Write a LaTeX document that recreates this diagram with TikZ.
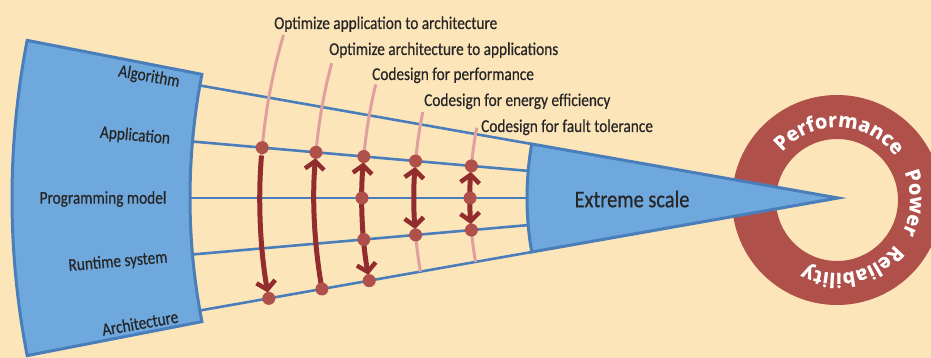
\documentclass[tikz,border=0pt]{standalone}
\usepackage{fontspec}
\setmainfont{Carlito}[FakeStretch=0.85,FakeBold=0.5]
\newfontfamily\ringfont{Open Sans}[FakeBold=0.6]
\usetikzlibrary{arrows.meta,decorations.text}

\definecolor{bg}{HTML}{FDE5BA}
\definecolor{bluefill}{HTML}{6FA8DC}
\definecolor{blueline}{HTML}{4A7EBB}
\definecolor{ringred}{HTML}{B0504B}
\definecolor{darkred}{HTML}{912D2D}
\definecolor{pinkline}{HTML}{E0A0A0}
\definecolor{ink}{HTML}{262626}

\newcommand\ringtext{\ringfont\bfseries\fontsize{20}{20}\selectfont}

\tikzset{
  chev/.tip={Straight Barb[length=8pt,width=19pt,line width=4.5pt]},
  blueshape/.style={fill=bluefill,draw=blueline,line width=3pt},
  ray/.style={draw=blueline,line width=2.6pt},
  guide/.style={draw=pinkline,line width=3pt},
  flow/.style={draw=darkred,line width=5pt},
  dot/.style={fill=ringred},
  sidelabel/.style={font=\fontsize{18}{21}\selectfont,text=ink,inner sep=0pt},
  toplabel/.style={font=\fontsize{18}{21}\selectfont,text=ink,inner sep=0pt,anchor=base west},
  ringlabel/.style={decorate,decoration={text along path,text align=center,
      text color=white,text={|\ringtext|#1}}}
}

\begin{document}
\begin{tikzpicture}[x=1pt,y=1pt]
\useasboundingbox (0,0) rectangle (931,358);
\clip (0,0) rectangle (931,358);
\fill[bg] (0,0) rectangle (931,358);

% apex of the cone and centre of the ring
\coordinate (A) at (838,160);
\coordinate (R) at (837,158);

% ring with its three words
\fill[ringred,even odd rule] (R) circle[radius=105] (R) circle[radius=61];
\path[ringlabel=Performance] (R) ++(160:73) arc[start angle=160,end angle=16,radius=73];
\path[ringlabel=Power] (R) ++(40:73) arc[start angle=40,end angle=-44,radius=73];
\path[ringlabel=Reliability] (R) ++(-20:73) arc[start angle=-20,end angle=-134,radius=73];

% the five layer lines, from the left band to the cone
\foreach \a [count=\i] in {170,175,180,185,190}{
  \path (A) ++(\a:648) coordinate (o\i) (A) ++(\a:311) coordinate (e\i);
  \draw[ray] (o\i) -- (e\i);
}

% left band
\path (A) ++(169:826) coordinate (lstl) (A) ++(191:648) coordinate (lsbr);
\draw[blueshape] (lstl) arc[start angle=169,end angle=191,radius=826]
  -- (lsbr) arc[start angle=191,end angle=169,radius=648] -- cycle;

% cone
\draw[blueshape] (A) -- (e1) arc[start angle=170,end angle=190,radius=311] -- cycle;
\node[font=\fontsize{24}{28}\selectfont,text=ink,inner sep=0pt] (xs) at (632,159) {Extreme scale};

% layer names
\node[sidelabel,rotate=-10] (lalg) at (149,281) {Algorithm};
\node[sidelabel,rotate=-5] (lapp) at (135,222) {Application};
\node[sidelabel] (lprog) at (103,159) {Programming model};
\node[sidelabel,rotate=5] (lrun) at (118,96) {Runtime system};
\node[sidelabel,rotate=10] (larch) at (140,35) {Architecture};

% codesign labels
\node[toplabel] (t1) at (274,329) {Optimize application to architecture};
\node[toplabel] (t2) at (329,303) {Optimize architecture to applications};
\node[toplabel] (t3) at (372,278) {Codesign for performance};
\node[toplabel] (t4) at (424,252) {Codesign for energy efficiency};
\node[toplabel] (t5) at (481,226) {Codesign for fault tolerance};

% guide arcs, dots and arrows
\path (A) ++(163.6:578) coordinate (g1)
      (A) ++(165.1:524) coordinate (g2)
      (A) ++(166.2:476) coordinate (g3)
      (A) ++(168.3:424) coordinate (g4)
      (A) ++(169.0:368) coordinate (g5);
\draw[guide] (g1) arc[start angle=163.6,end angle=190,radius=578];
\draw[guide] (g2) arc[start angle=165.1,end angle=190,radius=524];
\draw[guide] (g3) arc[start angle=166.2,end angle=190,radius=476];
\draw[guide] (g4) arc[start angle=168.3,end angle=190,radius=424];
\draw[guide] (g5) arc[start angle=169.0,end angle=190,radius=368];

\path (A) ++(175:578) coordinate (d1a) (A) ++(190:578) coordinate (d1r)
      (A) ++(175:524) coordinate (d2a) (A) ++(190:524) coordinate (d2r)
      (A) ++(175:476) coordinate (d3a) (A) ++(180:476) coordinate (d3p)
      (A) ++(185:476) coordinate (d3s) (A) ++(190:476) coordinate (d3r)
      (A) ++(175:424) coordinate (d4a) (A) ++(185:424) coordinate (d4s)
      (A) ++(175:368) coordinate (d5a) (A) ++(180:368) coordinate (d5p)
      (A) ++(185:368) coordinate (d5s);

\draw[flow,-{chev},shorten <=8pt,shorten >=6pt] (d1a) arc[start angle=175,end angle=190,radius=578];
\draw[flow,-{chev},shorten >=6pt] (d2r) arc[start angle=190,end angle=175,radius=524];
\draw[flow,{chev}-{chev},shorten <=6pt,shorten >=6pt] (d3a) arc[start angle=175,end angle=190,radius=476];
\draw[flow,{chev}-{chev},shorten <=6pt,shorten >=6pt] (d4a) arc[start angle=175,end angle=185,radius=424];
\draw[flow,{chev}-{chev},shorten <=6pt,shorten >=6pt] (d5a) arc[start angle=175,end angle=185,radius=368];

\foreach \d in {d1a,d1r,d2a,d2r,d3a,d3p,d3s,d3r,d4a,d4s,d5a,d5p,d5s}
  \fill[dot] (\d) circle[radius=6.5];
\end{tikzpicture}
\end{document}
